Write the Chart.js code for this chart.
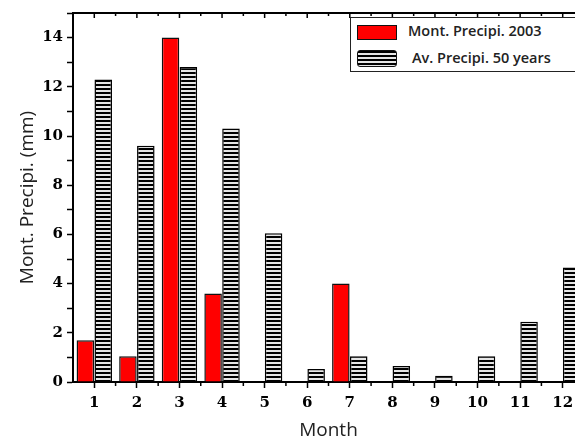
<!DOCTYPE html>
<html lang="en">
<head>
    <meta charset="UTF-8">
    <title>Monthly precipitation</title>
    <script src="https://cdn.jsdelivr.net/npm/chart.js"></script>
    <style>
        html, body { margin: 0; padding: 0; background: #fff; overflow: hidden; }
        .wrap { position: relative; width: 600px; height: 442px; }
        .legend {
            position: absolute; left: 350px; top: 17px; width: 250px; height: 53px;
            border: 1.5px solid #222; background: #fff;
            font-family: 'Open Sans', sans-serif; font-size: 14.5px; font-weight: 600; color: #222;
        }
        .legend .sw { position: absolute; left: 6px; width: 40px; box-sizing: border-box; border: 1.5px solid #111; }
        .legend .red { top: 7px; height: 15px; background: #ff0000; }
        .legend .hatch { top: 32px; height: 17px; border-radius: 3px;
            background: repeating-linear-gradient(to bottom, #000 0px, #000 2px, #e6e6e6 2px, #e6e6e6 4px); }
        .legend .txt { position: absolute; white-space: nowrap; }
    </style>
</head>
<body>
    <div class="wrap">
        <canvas id="precipChart"></canvas>
        <div class="legend">
            <div class="sw red"></div>
            <div class="txt" style="left:57px; top:3px;">Mont. Precipi. 2003</div>
            <div class="sw hatch"></div>
            <div class="txt" style="left:61px; top:30px;">Av. Precipi. 50 years</div>
        </div>
    </div>

    <script>
        // data
        const months = ['1', '2', '3', '4', '5', '6', '7', '8', '9', '10', '11', '12'];
        const precip2003 = [1.7, 1.05, 14.0, 3.6, 0, 0, 4.0, 0, 0, 0, 0, 0];
        const precipAvg50 = [12.3, 9.6, 12.8, 10.3, 6.05, 0.53, 1.05, 0.65, 0.25, 1.05, 2.45, 4.65];

        // horizontal stripe fill for the 50-year average
        function stripePattern() {
            const c = document.createElement('canvas');
            c.width = 4; c.height = 4;
            const g = c.getContext('2d');
            g.fillStyle = '#e6e6e6';
            g.fillRect(0, 0, 4, 4);
            g.fillStyle = '#000';
            g.fillRect(0, 0, 4, 2);
            return g.createPattern(c, 'repeat');
        }

        // top frame line + inward ticks, minor ticks between months
        const frameTicks = {
            id: 'frameTicks',
            afterDraw(chart) {
                const { ctx, chartArea: a, scales: { x } } = chart;
                const half = (x.getPixelForTick(1) - x.getPixelForTick(0)) / 2;
                ctx.save();
                ctx.strokeStyle = '#000';
                ctx.lineWidth = 2;
                ctx.beginPath();
                ctx.moveTo(a.left - 1, a.top);
                ctx.lineTo(a.right, a.top);
                ctx.lineTo(a.right, a.bottom);
                ctx.stroke();
                ctx.lineWidth = 1.5;
                ctx.beginPath();
                x.ticks.forEach((t, i) => {
                    const px = x.getPixelForTick(i);
                    ctx.moveTo(px, a.top); ctx.lineTo(px, a.top + 5);
                    ctx.moveTo(px + half, a.top); ctx.lineTo(px + half, a.top + 3);
                    ctx.moveTo(px + half, a.bottom); ctx.lineTo(px + half, a.bottom + 4);
                });
                ctx.stroke();
                ctx.restore();
            }
        };

        const tickFont = { family: 'DejaVu Serif', size: 15, weight: 'bold' };
        const titleFont = { family: 'Open Sans', size: 19 };

        new Chart(document.getElementById('precipChart'), {
            type: 'bar',
            data: {
                labels: months,
                datasets: [{
                    label: 'Mont. Precipi. 2003',
                    data: precip2003,
                    backgroundColor: '#ff0000',
                    borderColor: '#111',
                    borderWidth: 1.5,
                    categoryPercentage: 0.84,
                    barPercentage: 0.98
                }, {
                    label: 'Av. Precipi. 50 years',
                    data: precipAvg50,
                    backgroundColor: stripePattern(),
                    borderColor: '#000',
                    borderWidth: 1.5,
                    categoryPercentage: 0.84,
                    barPercentage: 0.98
                }]
            },
            options: {
                responsive: true,
                maintainAspectRatio: false,
                animation: false,
                layout: { padding: { left: 16, top: 13, right: 16, bottom: 0 } },
                plugins: {
                    legend: { display: false },
                    tooltip: { enabled: false }
                },
                scales: {
                    x: {
                        grid: { offset: false, drawOnChartArea: false, tickLength: 6, tickWidth: 1.5, color: '#000' },
                        border: { color: '#000', width: 2 },
                        ticks: { color: '#000', font: tickFont, padding: 6, maxRotation: 0 },
                        title: { display: true, text: 'Month', color: '#222', font: titleFont, padding: { top: 0, bottom: 0 } },
                        afterFit: (scale) => { scale.height = 60; }
                    },
                    y: {
                        min: 0,
                        max: 15,
                        grid: { drawOnChartArea: false, tickLength: 6, tickWidth: 1.5, color: '#000' },
                        border: { color: '#000', width: 2 },
                        ticks: {
                            stepSize: 1,
                            color: '#000',
                            font: tickFont,
                            padding: 4,
                            callback: (v) => (v % 2 === 0 ? v : '')
                        },
                        title: { display: true, text: 'Mont. Precipi. (mm)', color: '#222', font: titleFont, padding: { top: 0, bottom: 0 } },
                        afterFit: (scale) => { scale.width = 57; }
                    }
                }
            },
            plugins: [frameTicks]
        });
    </script>
</body>
</html>
